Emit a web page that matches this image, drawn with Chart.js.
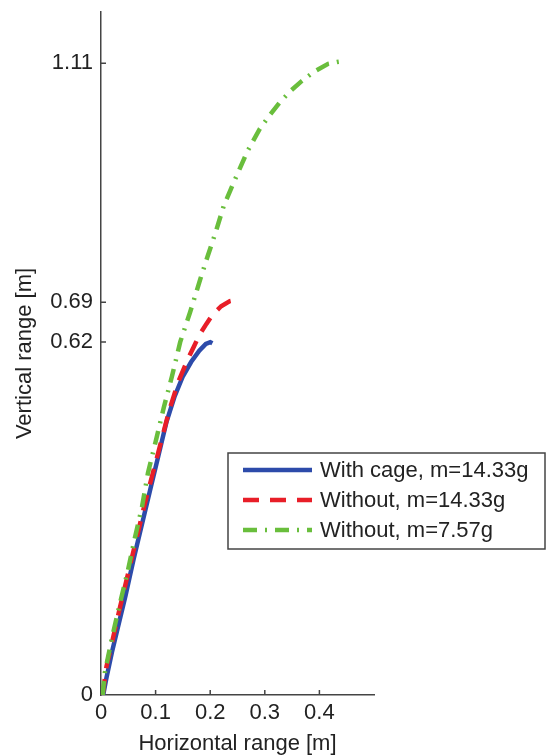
<!DOCTYPE html>
<html lang="en">
<head>
  <meta charset="UTF-8">
  <title>Vertical vs horizontal range</title>
  <script src="https://cdn.jsdelivr.net/npm/chart.js"></script>
  <style>
    body { margin: 0; padding: 0; background: #fff; }
    #wrap { width: 550px; height: 756px; }
  </style>
</head>
<body>
  <div id="wrap">
    <canvas id="rangeChart" width="550" height="756"></canvas>
  </div>

  <script>
    const seriesLabels = ['With cage, m=14.33g', 'Without, m=14.33g', 'Without, m=7.57g'];

    const xCage = [0.004, 0.01, 0.02, 0.03, 0.045, 0.06, 0.075, 0.09, 0.105, 0.12, 0.135, 0.15, 0.165, 0.18, 0.192, 0.2, 0.204];
    const yCage = [0.0, 0.03, 0.075, 0.115, 0.175, 0.24, 0.3, 0.36, 0.42, 0.48, 0.525, 0.56, 0.585, 0.605, 0.617, 0.62, 0.618];

    const xHeavy = [0.003, 0.01, 0.022, 0.035, 0.05, 0.065, 0.08, 0.095, 0.11, 0.125, 0.141, 0.159, 0.17, 0.181, 0.193, 0.205, 0.22, 0.236, 0.251];
    const yHeavy = [0.0, 0.05, 0.1, 0.155, 0.215, 0.275, 0.335, 0.39, 0.445, 0.5, 0.549, 0.59, 0.612, 0.634, 0.652, 0.669, 0.683, 0.692, 0.695];

    const xLight = [0.003, 0.007, 0.02, 0.035, 0.05, 0.062, 0.075, 0.086, 0.1, 0.115, 0.13, 0.145, 0.163, 0.182, 0.195, 0.209, 0.225, 0.246, 0.268, 0.291, 0.31, 0.328, 0.348, 0.368, 0.39, 0.416, 0.432, 0.447];
    const yLight = [0.0, 0.039, 0.1, 0.162, 0.222, 0.276, 0.33, 0.39, 0.445, 0.505, 0.56, 0.62, 0.672, 0.731, 0.77, 0.81, 0.86, 0.907, 0.955, 0.995, 1.02, 1.042, 1.062, 1.079, 1.095, 1.109, 1.112, 1.114];

    const xTicks = [0, 0.1, 0.2, 0.3, 0.4];
    const yTicks = [0, 0.62, 0.69, 1.11];

    const FONT = 'Liberation Sans, Arial, sans-serif';
    const axisColor = '#444';
    const textColor = '#222';

    function toPoints(xs, ys) {
      return xs.map((x, i) => ({ x: x, y: ys[i] }));
    }

    // Ticks nach innen (wie MATLAB)
    const innerTicks = {
      id: 'innerTicks',
      afterDatasetsDraw(chart) {
        const ctx = chart.ctx;
        const xs = chart.scales.x, ys = chart.scales.y;
        const len = 5;
        ctx.save();
        ctx.strokeStyle = axisColor;
        ctx.lineWidth = 1.5;
        ctx.beginPath();
        xs.ticks.forEach(t => {
          const px = xs.getPixelForValue(t.value);
          if (t.value === 0) return;
          ctx.moveTo(px, ys.bottom);
          ctx.lineTo(px, ys.bottom - len);
        });
        ys.ticks.forEach(t => {
          const py = ys.getPixelForValue(t.value);
          if (t.value === 0) return;
          ctx.moveTo(xs.left, py);
          ctx.lineTo(xs.left + len, py);
        });
        ctx.stroke();
        ctx.restore();
      }
    };

    // Legende mit Rahmen, teilweise ausserhalb des Plotbereichs
    const boxLegend = {
      id: 'boxLegend',
      afterDraw(chart) {
        const ctx = chart.ctx;
        const left = 228, top = 453, width = 317, height = 96;
        ctx.save();
        ctx.fillStyle = '#fff';
        ctx.fillRect(left, top, width, height);
        ctx.strokeStyle = axisColor;
        ctx.lineWidth = 1.5;
        ctx.strokeRect(left, top, width, height);
        chart.data.datasets.forEach((ds, i) => {
          const y = top + 17 + i * 30;
          ctx.beginPath();
          ctx.setLineDash(ds.borderDash || []);
          ctx.strokeStyle = ds.borderColor;
          ctx.lineWidth = ds.borderWidth;
          ctx.moveTo(243, y);
          ctx.lineTo(312, y);
          ctx.stroke();
          ctx.setLineDash([]);
          ctx.fillStyle = textColor;
          ctx.font = '22px ' + FONT;
          ctx.textBaseline = 'middle';
          ctx.textAlign = 'left';
          ctx.fillText(ds.label, 320, y + 1);
        });
        ctx.restore();
      }
    };

    const ctx = document.getElementById('rangeChart').getContext('2d');
    const chart = new Chart(ctx, {
      type: 'scatter',
      data: {
        datasets: [
          {
            label: seriesLabels[0],
            data: toPoints(xCage, yCage),
            showLine: true,
            borderColor: 'rgb(45, 75, 170)',
            borderWidth: 4.5,
            pointRadius: 0,
            order: 2
          },
          {
            label: seriesLabels[1],
            data: toPoints(xHeavy, yHeavy),
            showLine: true,
            borderColor: 'rgb(232, 30, 40)',
            borderWidth: 4.5,
            borderDash: [16, 11],
            pointRadius: 0,
            order: 1
          },
          {
            label: seriesLabels[2],
            data: toPoints(xLight, yLight),
            showLine: true,
            borderColor: 'rgb(105, 190, 60)',
            borderWidth: 4.5,
            borderDash: [14, 8, 2, 8],
            pointRadius: 0,
            order: 0
          }
        ]
      },
      options: {
        responsive: false,
        animation: false,
        layout: { padding: { top: 12, right: 176, left: 0, bottom: 0 } },
        scales: {
          x: {
            type: 'linear',
            min: 0,
            max: 0.5,
            afterFit(scale) {
              scale.height = 61;
              scale.paddingLeft = 0;
              scale.paddingRight = 0;
            },
            afterBuildTicks(scale) { scale.ticks = xTicks.map(v => ({ value: v })); },
            ticks: {
              color: textColor,
              font: { family: FONT, size: 22 },
              padding: 5,
              maxRotation: 0,
              callback: v => String(v)
            },
            grid: { display: false, drawTicks: false },
            border: { display: true, color: axisColor, width: 1.5 },
            title: {
              display: true,
              text: 'Horizontal range [m]',
              color: textColor,
              font: { family: FONT, size: 22, lineHeight: 1 },
              padding: { top: 0, bottom: 1 }
            }
          },
          y: {
            type: 'linear',
            min: 0,
            max: 1.2,
            afterFit(scale) {
              scale.width = 101;
              scale.paddingTop = 0;
              scale.paddingBottom = 0;
            },
            afterBuildTicks(scale) { scale.ticks = yTicks.map(v => ({ value: v })); },
            ticks: {
              color: textColor,
              font: { family: FONT, size: 22 },
              padding: 8,
              callback: v => String(v)
            },
            grid: { display: false, drawTicks: false },
            border: { display: true, color: axisColor, width: 1.5 },
            title: {
              display: true,
              text: 'Vertical range [m]',
              color: textColor,
              font: { family: FONT, size: 22, lineHeight: 1 },
              padding: { top: 14, bottom: 0 }
            }
          }
        },
        plugins: {
          legend: { display: false },
          tooltip: { enabled: false }
        }
      },
      plugins: [innerTicks, boxLegend]
    });
  </script>
</body>
</html>
